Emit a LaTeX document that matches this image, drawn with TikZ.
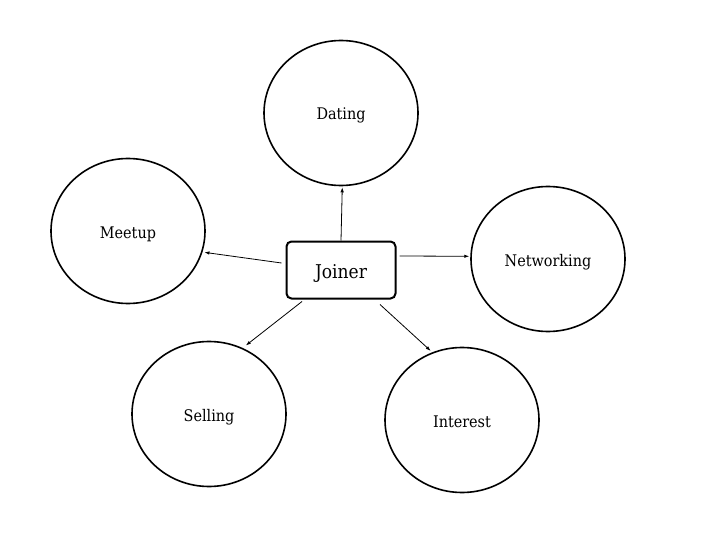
\documentclass[tikz,border=0pt]{standalone}
\usepackage{fontspec}
\setmainfont{DejaVu Serif Condensed}
\usetikzlibrary{arrows.meta,shapes.geometric}
\begin{document}
\begin{tikzpicture}[x=1pt,y=-1pt,
  bubble/.style={draw=black,line width=1.6pt,ellipse,minimum width=154pt,minimum height=145pt,inner sep=0pt,text height=14pt,text depth=0pt,font=\fontsize{16}{18}\selectfont},
  hub/.style={draw=black,line width=2pt,rounded corners=5pt,minimum width=109pt,minimum height=57pt,inner sep=0pt,text height=16pt,text depth=0pt,font=\fontsize{19}{22}\selectfont},
  link/.style={line width=0.8pt,-{Latex[length=5pt,width=3.5pt]}}]
\useasboundingbox (0,0) rectangle (720,540);
\node[hub] (joiner) at (341,270) {Joiner};
\node[bubble] (dating) at (341,113) {Dating};
\node[bubble] (meetup) at (128,231) {Meetup};
\node[bubble] (networking) at (548,259) {Networking};
\node[bubble] (selling) at (209,414) {Selling};
\node[bubble] (interest) at (462,420) {Interest};
\draw[link] (joiner.north) -- ([yshift=-1pt]dating.-89.5);
\draw[link] ([xshift=-4pt,yshift=7pt]joiner.west) -- ([xshift=2pt]meetup.-16);
\draw[link] ([xshift=3pt,yshift=14pt]joiner.east) -- ([xshift=-1pt]networking.178);
\draw[link] ([xshift=-39pt,yshift=-2pt]joiner.south) -- ([xshift=2pt,yshift=3pt]selling.62);
\draw[link] ([xshift=39pt,yshift=-5pt]joiner.south) -- ([yshift=2pt]interest.115);
\end{tikzpicture}
\end{document}
